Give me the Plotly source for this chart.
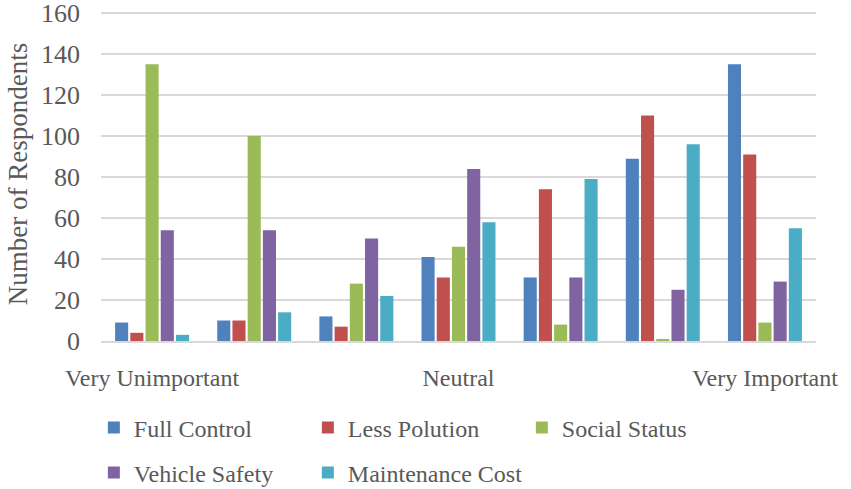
import plotly.graph_objects as go

# Likert scale positions (1 = very unimportant ... 7 = very important)
levels = [1, 2, 3, 4, 5, 6, 7]
tick_positions = [1, 4, 7]
tick_labels = ["Very Unimportant", "Neutral", "Very Important"]

full_control = [9, 10, 12, 41, 31, 89, 135]
less_polution = [4, 10, 7, 31, 74, 110, 91]
social_status = [135, 100, 28, 46, 8, 1, 9]
vehicle_safety = [54, 54, 50, 84, 31, 25, 29]
maintenance_cost = [3, 14, 22, 58, 79, 96, 55]

y_ticks = [0, 20, 40, 60, 80, 100, 120, 140, 160]

series = [
    ("Full Control", full_control, "#4F81BD", "legend"),
    ("Less Polution", less_polution, "#C0504D", "legend"),
    ("Social Status", social_status, "#9BBB59", "legend"),
    ("Vehicle Safety", vehicle_safety, "#8064A2", "legend2"),
    ("Maintenance Cost", maintenance_cost, "#4BACC6", "legend2"),
]

text_color = "#595959"
serif = "Liberation Serif"

fig = go.Figure()
for name, values, color, leg in series:
    fig.add_trace(go.Bar(
        x=levels, y=values, name=name,
        marker=dict(color=color, line=dict(width=0)),
        legend=leg,
    ))

legend_common = dict(
    orientation="h",
    x=-0.01, xanchor="left",
    yanchor="middle",
    font=dict(family=serif, size=24, color=text_color),
    entrywidth=169, entrywidthmode="pixels",
    itemwidth=30,
    bgcolor="rgba(0,0,0,0)",
    traceorder="normal",
)

# Plot area spans 7..341 px vertically; the 0-163 range puts 160 at y≈13
fig.update_layout(
    width=851, height=489,
    margin=dict(l=101, r=35, t=7, b=148, autoexpand=False),
    paper_bgcolor="white", plot_bgcolor="white",
    barmode="group",
    bargap=0.255,
    bargroupgap=0.14,
    showlegend=True,
    legend=dict(y=-0.26, **legend_common),
    legend2=dict(y=-0.395, **legend_common),
    xaxis=dict(
        range=[0.5, 7.5],
        tickmode="array", tickvals=tick_positions, ticktext=tick_labels,
        tickfont=dict(family=serif, size=24, color=text_color),
        showgrid=False, zeroline=False,
        showline=True, linecolor="#D9D9D9", linewidth=2,
        ticks="", ticklabelstandoff=14,
    ),
    yaxis=dict(
        range=[0, 163],
        tickmode="array", tickvals=y_ticks,
        tickfont=dict(family=serif, size=26, color=text_color),
        ticklabeloverflow="allow",
        showgrid=True, gridcolor="#D9D9D9", gridwidth=2,
        zeroline=False, showline=False,
        ticks="", ticklabelstandoff=20,
        title=dict(text="Number of Respondents",
                   font=dict(family=serif, size=27, color=text_color),
                   standoff=5),
    ),
)

fig.write_html("out.html")
